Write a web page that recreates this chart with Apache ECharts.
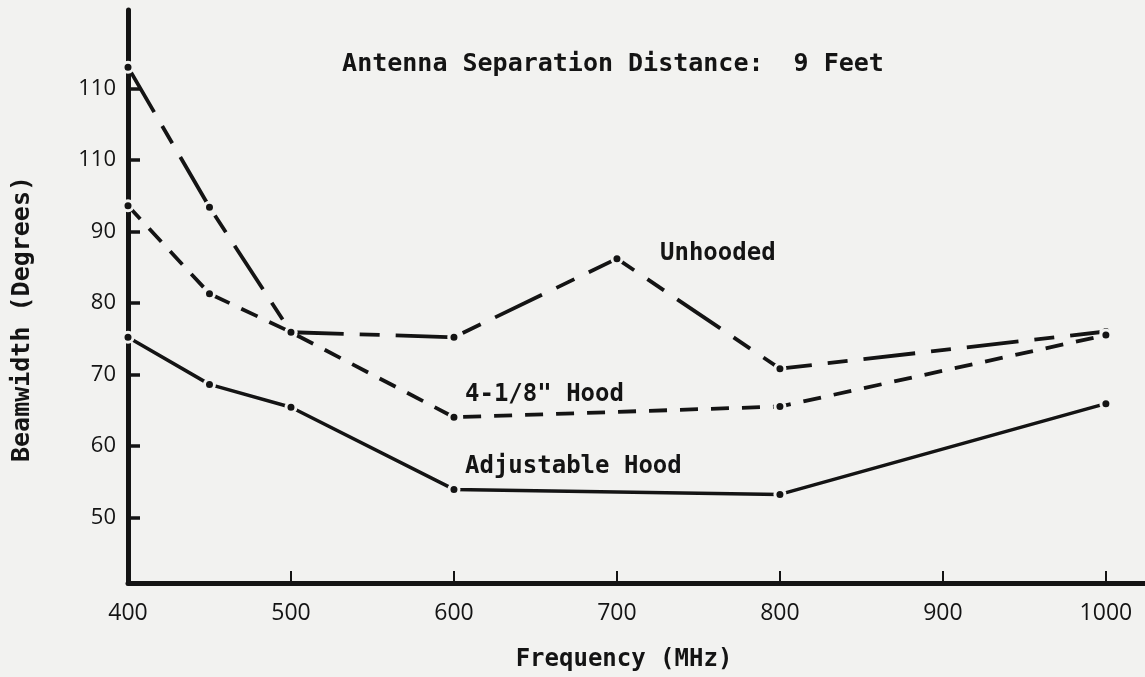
<!DOCTYPE html>
<html>
<head>
<meta charset="utf-8">
<script src="https://cdn.jsdelivr.net/npm/echarts@6/dist/echarts.min.js"></script>
<style>
  html, body { margin: 0; padding: 0; background: #f2f2f0; }
  #chart { width: 1145px; height: 677px; }
</style>
</head>
<body>
<div id="chart"></div>
<script>
// Beamwidth versus frequency, antenna separation 9 feet
const frequencies = [400, 450, 500, 600, 700, 800, 1000];
const unhooded   = [113.0, 93.4, 75.9, 75.2, 86.2, 70.8, 76.0];
const hood418    = [93.6, 81.3, 75.9, 64.0, null, 65.5, 75.5];
const adjustable = [75.2, 68.6, 65.4, 53.9, null, 53.2, 65.9];

const xTickValues = [400, 500, 600, 700, 800, 900, 1000];
const xTickLabels = ['400', '500', '600', '700', '800', '900', '1000'];
const yTickValues = [50, 60, 70, 80, 90, 100, 110];
const yTickLabels = ['50', '60', '70', '80', '90', '110', '110'];

const ink = '#141414';
const paper = '#f2f2f0';
const mono = '"DejaVu Sans Mono", monospace';

function pairs(values) {
  return frequencies.map((f, i) => [f, values[i]]);
}

function lineSeries(name, values, dash, width) {
  return {
    name: name,
    type: 'line',
    data: pairs(values),
    connectNulls: true,
    symbol: 'circle',
    symbolSize: 10,
    itemStyle: { color: ink, borderColor: paper, borderWidth: 3 },
    lineStyle: { color: ink, width: width, type: dash, cap: 'butt' },
    emphasis: { disabled: true },
    animation: false
  };
}

const chart = echarts.init(document.getElementById('chart'), null, { renderer: 'canvas' });

chart.setOption({
  backgroundColor: paper,
  animation: false,
  grid: { left: 128, right: 0, top: 10, bottom: 94 },
  xAxis: {
    type: 'value',
    min: 400,
    max: 1024,
    splitLine: { show: false },
    axisLine: { lineStyle: { color: ink, width: 5 } },
    axisTick: {
      inside: true, length: 12,
      customValues: xTickValues.slice(1),
      lineStyle: { color: ink, width: 2 }
    },
    axisLabel: {
      customValues: xTickValues,
      formatter: v => xTickLabels[xTickValues.indexOf(v)] || '',
      margin: 19,
      color: ink,
      fontFamily: '"Open Sans", sans-serif',
      fontSize: 23
    }
  },
  yAxis: {
    type: 'value',
    min: 40.8,
    max: 121,
    splitLine: { show: false },
    axisLine: { lineStyle: { color: ink, width: 5 } },
    axisTick: {
      inside: true, length: 12,
      customValues: yTickValues,
      lineStyle: { color: ink, width: 3.5 }
    },
    axisLabel: {
      customValues: yTickValues,
      formatter: v => yTickLabels[yTickValues.indexOf(v)] || '',
      margin: 12,
      color: ink,
      fontFamily: '"Open Sans", sans-serif',
      fontSize: 22
    }
  },
  series: [
    lineSeries('Unhooded', unhooded, [52, 16, 20, 16], 3.8),
    lineSeries('4-1/8" Hood', hood418, [18, 13], 3.8),
    lineSeries('Adjustable Hood', adjustable, 'solid', 3.5)
  ],
  graphic: [
    { type: 'text', x: 613, y: 64, style: { text: 'Antenna Separation Distance:  9 Feet', fill: ink, font: 'bold 25px ' + mono, align: 'center', verticalAlign: 'middle' } },
    { type: 'text', x: 660, y: 254, style: { text: 'Unhooded', fill: ink, font: 'bold 24px ' + mono, align: 'left', verticalAlign: 'middle' } },
    { type: 'text', x: 465, y: 395, style: { text: '4-1/8" Hood', fill: ink, font: 'bold 24px ' + mono, align: 'left', verticalAlign: 'middle' } },
    { type: 'text', x: 465, y: 467, style: { text: 'Adjustable Hood', fill: ink, font: 'bold 24px ' + mono, align: 'left', verticalAlign: 'middle' } },
    { type: 'text', x: 624, y: 660, style: { text: 'Frequency (MHz)', fill: ink, font: 'bold 24px ' + mono, align: 'center', verticalAlign: 'middle' } },
    { type: 'text', x: 22, y: 319, rotation: Math.PI / 2, style: { text: 'Beamwidth (Degrees)', fill: ink, font: 'bold 25px ' + mono, align: 'center', verticalAlign: 'middle' } }
  ]
});
</script>
</body>
</html>
